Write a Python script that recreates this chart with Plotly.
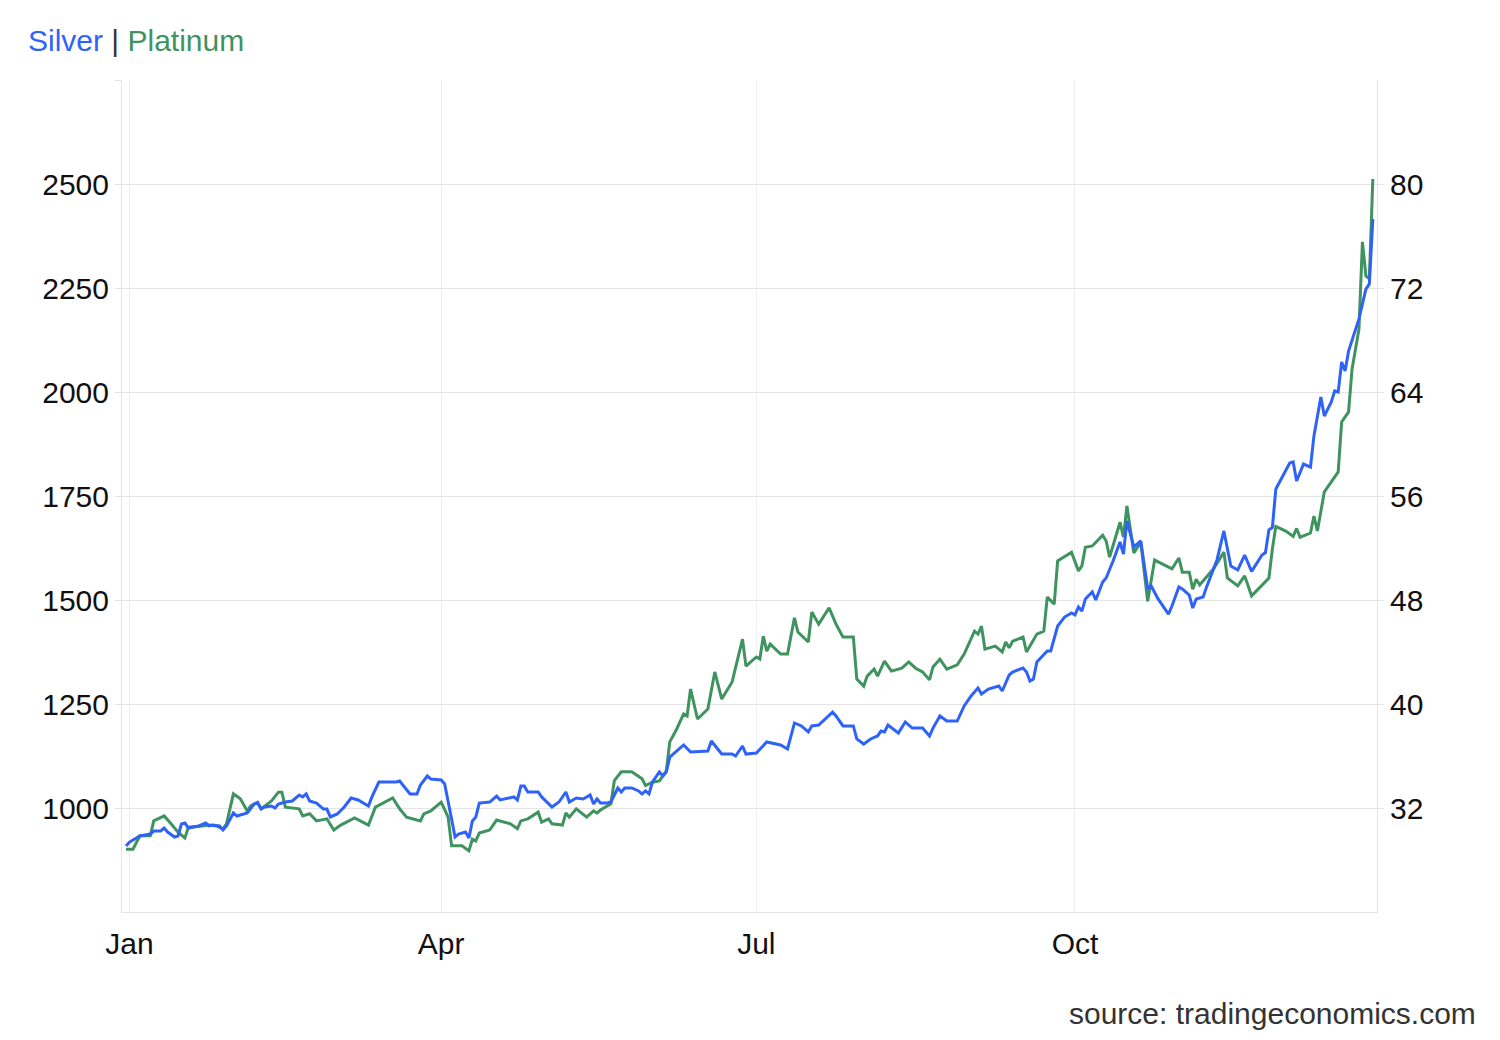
import plotly.graph_objects as go

# ---------------- data ----------------
pt_dates = [
    "2024-12-31", "2025-01-02", "2025-01-04", "2025-01-07", "2025-01-08", "2025-01-11", "2025-01-13",
    "2025-01-15", "2025-01-17", "2025-01-18", "2025-01-22", "2025-01-24", "2025-01-26", "2025-01-28",
    "2025-01-29", "2025-01-31", "2025-02-02", "2025-02-04", "2025-02-05", "2025-02-07", "2025-02-08",
    "2025-02-11", "2025-02-13", "2025-02-14", "2025-02-15", "2025-02-19", "2025-02-20", "2025-02-22",
    "2025-02-24", "2025-02-27", "2025-03-01", "2025-03-03", "2025-03-07", "2025-03-11", "2025-03-13",
    "2025-03-18", "2025-03-20", "2025-03-22", "2025-03-26", "2025-03-27", "2025-03-29", "2025-04-01",
    "2025-04-03", "2025-04-04", "2025-04-07", "2025-04-09", "2025-04-10", "2025-04-11", "2025-04-12",
    "2025-04-15", "2025-04-17", "2025-04-21", "2025-04-23", "2025-04-24", "2025-04-26", "2025-04-29",
    "2025-04-30", "2025-05-02", "2025-05-03", "2025-05-06", "2025-05-07", "2025-05-08", "2025-05-10",
    "2025-05-13", "2025-05-15", "2025-05-16", "2025-05-17", "2025-05-20", "2025-05-21", "2025-05-23",
    "2025-05-26", "2025-05-28", "2025-05-29", "2025-05-30", "2025-06-01", "2025-06-03", "2025-06-05",
    "2025-06-06", "2025-06-08", "2025-06-10", "2025-06-11", "2025-06-12", "2025-06-14", "2025-06-17",
    "2025-06-19", "2025-06-21", "2025-06-24", "2025-06-27", "2025-06-28", "2025-07-01", "2025-07-02",
    "2025-07-03", "2025-07-04", "2025-07-05", "2025-07-08", "2025-07-10", "2025-07-12", "2025-07-13",
    "2025-07-16", "2025-07-17", "2025-07-19", "2025-07-22", "2025-07-24", "2025-07-26", "2025-07-29",
    "2025-07-30", "2025-08-01", "2025-08-02", "2025-08-04", "2025-08-05", "2025-08-07", "2025-08-09",
    "2025-08-12", "2025-08-14", "2025-08-16", "2025-08-18", "2025-08-20", "2025-08-21", "2025-08-23",
    "2025-08-25", "2025-08-28", "2025-08-30", "2025-09-02", "2025-09-03", "2025-09-04", "2025-09-05",
    "2025-09-08", "2025-09-10", "2025-09-11", "2025-09-12", "2025-09-13", "2025-09-16", "2025-09-17",
    "2025-09-20", "2025-09-22", "2025-09-23", "2025-09-25", "2025-09-26", "2025-09-30", "2025-10-02",
    "2025-10-03", "2025-10-04", "2025-10-06", "2025-10-09", "2025-10-10", "2025-10-11", "2025-10-14",
    "2025-10-15", "2025-10-16", "2025-10-18", "2025-10-20", "2025-10-22", "2025-10-24", "2025-10-29",
    "2025-10-31", "2025-11-01", "2025-11-03", "2025-11-04", "2025-11-05", "2025-11-06", "2025-11-10",
    "2025-11-13", "2025-11-14", "2025-11-17", "2025-11-19", "2025-11-21", "2025-11-26", "2025-11-27",
    "2025-11-28", "2025-12-01", "2025-12-03", "2025-12-04", "2025-12-05", "2025-12-08", "2025-12-09",
    "2025-12-10", "2025-12-12", "2025-12-16", "2025-12-17", "2025-12-19", "2025-12-20", "2025-12-22",
    "2025-12-23", "2025-12-24", "2025-12-25", "2025-12-26",
]
pt_values = [
    901, 901, 933, 933, 969, 981, 962,
    942, 928, 954, 957, 959, 957, 950,
    962, 1034, 1022, 993, 1005, 1014, 998,
    1017, 1038, 1038, 1002, 998, 981, 986,
    969, 974, 947, 959, 976, 959, 1002,
    1024, 998, 978, 969, 986, 993, 1014,
    978, 909, 909, 897, 925, 921, 940,
    947, 971, 962, 950, 969, 974, 990,
    966, 974, 962, 959, 988, 978, 998,
    978, 993, 988, 995, 1010, 1066, 1087,
    1087, 1077, 1070, 1054, 1062, 1065, 1089,
    1159, 1190, 1226, 1221, 1286, 1214, 1238,
    1327, 1262, 1303, 1406, 1341, 1363, 1358,
    1413, 1377, 1394, 1370, 1370, 1457, 1423,
    1399, 1471, 1442, 1481, 1442, 1411, 1411,
    1310, 1293, 1317, 1334, 1317, 1353, 1329,
    1336, 1351, 1336, 1327, 1308, 1339, 1358,
    1334, 1344, 1370, 1425, 1418, 1437, 1382,
    1389, 1375, 1399, 1385, 1401, 1411, 1375,
    1418, 1425, 1507, 1490, 1594, 1615, 1570,
    1582, 1627, 1630, 1656, 1642, 1603, 1687,
    1651, 1726, 1613, 1639, 1497, 1596, 1575,
    1601, 1567, 1567, 1526, 1550, 1536, 1575,
    1615, 1553, 1534, 1558, 1510, 1553, 1623,
    1677, 1665, 1653, 1672, 1651, 1661, 1702,
    1666, 1760, 1808, 1928, 1952, 2055, 2151,
    2361, 2279, 2272, 2512,
]

ag_dates = [
    "2024-12-31", "2025-01-01", "2025-01-04", "2025-01-07", "2025-01-08", "2025-01-10", "2025-01-11",
    "2025-01-12", "2025-01-14", "2025-01-15", "2025-01-16", "2025-01-17", "2025-01-18", "2025-01-21",
    "2025-01-23", "2025-01-24", "2025-01-25", "2025-01-27", "2025-01-28", "2025-01-29", "2025-01-31",
    "2025-02-01", "2025-02-04", "2025-02-06", "2025-02-07", "2025-02-08", "2025-02-09", "2025-02-11",
    "2025-02-12", "2025-02-13", "2025-02-15", "2025-02-17", "2025-02-19", "2025-02-20", "2025-02-21",
    "2025-02-22", "2025-02-24", "2025-02-26", "2025-02-27", "2025-02-28", "2025-03-02", "2025-03-04",
    "2025-03-06", "2025-03-08", "2025-03-11", "2025-03-12", "2025-03-14", "2025-03-19", "2025-03-20",
    "2025-03-22", "2025-03-23", "2025-03-25", "2025-03-26", "2025-03-28", "2025-03-29", "2025-04-01",
    "2025-04-02", "2025-04-04", "2025-04-05", "2025-04-06", "2025-04-08", "2025-04-09", "2025-04-10",
    "2025-04-11", "2025-04-12", "2025-04-15", "2025-04-17", "2025-04-18", "2025-04-22", "2025-04-23",
    "2025-04-24", "2025-04-25", "2025-04-26", "2025-04-29", "2025-04-30", "2025-05-03", "2025-05-05",
    "2025-05-07", "2025-05-08", "2025-05-10", "2025-05-12", "2025-05-14", "2025-05-15", "2025-05-16",
    "2025-05-17", "2025-05-19", "2025-05-20", "2025-05-22", "2025-05-23", "2025-05-24", "2025-05-26",
    "2025-05-28", "2025-05-29", "2025-05-30", "2025-05-31", "2025-06-01", "2025-06-03", "2025-06-04",
    "2025-06-05", "2025-06-06", "2025-06-10", "2025-06-12", "2025-06-15", "2025-06-17", "2025-06-18",
    "2025-06-21", "2025-06-24", "2025-06-25", "2025-06-27", "2025-06-28", "2025-07-01", "2025-07-03",
    "2025-07-04", "2025-07-08", "2025-07-10", "2025-07-12", "2025-07-14", "2025-07-16", "2025-07-17",
    "2025-07-19", "2025-07-23", "2025-07-24", "2025-07-26", "2025-07-29", "2025-07-30", "2025-08-01",
    "2025-08-03", "2025-08-05", "2025-08-06", "2025-08-07", "2025-08-08", "2025-08-11", "2025-08-13",
    "2025-08-15", "2025-08-18", "2025-08-20", "2025-08-21", "2025-08-23", "2025-08-25", "2025-08-28",
    "2025-08-30", "2025-09-01", "2025-09-03", "2025-09-04", "2025-09-06", "2025-09-09", "2025-09-10",
    "2025-09-12", "2025-09-13", "2025-09-16", "2025-09-17", "2025-09-18", "2025-09-19", "2025-09-20",
    "2025-09-23", "2025-09-24", "2025-09-26", "2025-09-28", "2025-09-30", "2025-10-01", "2025-10-02",
    "2025-10-03", "2025-10-04", "2025-10-06", "2025-10-07", "2025-10-09", "2025-10-10", "2025-10-12",
    "2025-10-14", "2025-10-15", "2025-10-16", "2025-10-18", "2025-10-20", "2025-10-22", "2025-10-23",
    "2025-10-25", "2025-10-28", "2025-10-29", "2025-10-31", "2025-11-01", "2025-11-03", "2025-11-04",
    "2025-11-05", "2025-11-07", "2025-11-08", "2025-11-11", "2025-11-13", "2025-11-15", "2025-11-17",
    "2025-11-19", "2025-11-21", "2025-11-24", "2025-11-25", "2025-11-26", "2025-11-27", "2025-11-28",
    "2025-11-30", "2025-12-02", "2025-12-03", "2025-12-04", "2025-12-06", "2025-12-08", "2025-12-09",
    "2025-12-10", "2025-12-11", "2025-12-12", "2025-12-14", "2025-12-15", "2025-12-16", "2025-12-17",
    "2025-12-18", "2025-12-19", "2025-12-21", "2025-12-22", "2025-12-24", "2025-12-25", "2025-12-26",
]
ag_values = [
    29.08, 29.38, 29.85, 30.00, 30.23, 30.23, 30.46,
    30.15, 29.77, 29.85, 30.77, 30.85, 30.46, 30.62,
    30.85, 30.62, 30.69, 30.62, 30.31, 30.62, 31.62,
    31.38, 31.62, 32.31, 32.38, 31.92, 32.08, 32.15,
    32.00, 32.31, 32.46, 32.54, 33.00, 32.85, 33.08,
    32.54, 32.38, 31.92, 31.92, 31.31, 31.54, 32.08,
    32.77, 32.62, 32.15, 32.85, 34.00, 34.00, 34.08,
    33.46, 33.08, 33.08, 33.77, 34.46, 34.23, 34.15,
    33.85, 31.15, 29.77, 30.00, 30.15, 29.69, 31.00,
    31.31, 32.38, 32.46, 32.92, 32.62, 32.85, 32.62,
    33.69, 33.69, 33.23, 33.23, 32.85, 32.08, 32.46,
    33.23, 32.46, 32.77, 32.69, 33.00, 32.31, 32.69,
    32.38, 32.38, 32.46, 33.54, 33.23, 33.54, 33.54,
    33.31, 33.08, 33.31, 33.08, 34.00, 34.77, 34.46,
    34.77, 35.92, 36.85, 36.31, 36.38, 36.38, 37.15,
    36.15, 36.15, 36.00, 36.77, 36.15, 36.23, 36.77,
    37.08, 36.85, 36.54, 38.54, 38.31, 37.85, 38.31,
    38.38, 39.38, 39.08, 38.31, 38.31, 37.31, 36.92,
    37.31, 37.54, 37.92, 37.85, 38.38, 37.77, 38.62,
    38.15, 38.15, 37.54, 38.15, 39.08, 38.69, 38.69,
    39.85, 40.62, 41.23, 40.77, 41.15, 41.38, 41.00,
    42.23, 42.46, 42.77, 42.46, 41.77, 41.92, 43.23,
    44.08, 44.08, 46.00, 46.69, 47.00, 46.85, 47.46,
    47.15, 48.08, 48.62, 48.00, 49.38, 49.69, 51.00,
    52.46, 51.54, 54.08, 52.08, 52.54, 48.85, 49.08,
    48.08, 46.92, 47.54, 49.00, 48.85, 48.38, 47.38,
    48.08, 48.23, 49.00, 51.08, 53.31, 50.62, 50.31,
    51.46, 50.20, 51.46, 51.65, 53.40, 53.58, 56.54,
    57.54, 58.54, 58.62, 57.15, 58.46, 58.23, 60.62,
    62.15, 63.62, 62.15, 63.23, 64.08, 64.00, 66.31,
    65.62, 67.15, 68.92, 69.62, 71.92, 72.31, 77.30,
]

pt_ticks = [1000, 1250, 1500, 1750, 2000, 2250, 2500, 2750]
pt_ticktext = ["1000", "1250", "1500", "1750", "2000", "2250", "2500", ""]
ag_ticks = [32, 40, 48, 56, 64, 72, 80]
month_ticks = ["2025-01-01", "2025-04-01", "2025-07-01", "2025-10-01"]
month_labels = ["Jan", "Apr", "Jul", "Oct"]

# ---------------- figure ----------------
BLUE = "#2f62f8"
GREEN = "#3f935e"
FONT = "Liberation Sans, Arial, Helvetica, sans-serif"
GRID = "#e5e5e5"

# the page places the figure 8px from the top-left corner, so the figure is
# sized to fit the 1500x1040 window with that offset
W, H = 1484, 1024

fig = go.Figure()
fig.add_trace(go.Scatter(x=pt_dates, y=pt_values, name="Platinum", mode="lines",
                         line=dict(color=GREEN, width=3), yaxis="y"))
fig.add_trace(go.Scatter(x=ag_dates, y=ag_values, name="Silver", mode="lines",
                         line=dict(color=BLUE, width=3), yaxis="y2"))

fig.update_layout(
    width=W, height=H,
    margin=dict(l=114, r=115, t=72, b=120),
    paper_bgcolor="white", plot_bgcolor="white",
    showlegend=False,
    font=dict(family=FONT, size=30, color="#111111"),
    title=dict(
        text=(f'<span style="color:{BLUE}">Silver</span>'
              f'<span style="color:#333333"> | </span>'
              f'<span style="color:{GREEN}">Platinum</span>'),
        x=20 / W, xanchor="left", xref="container",
        y=1 - 32 / H, yanchor="middle", yref="container",
        font=dict(family=FONT, size=30),
    ),
    xaxis=dict(
        type="date",
        range=["2024-12-29 20:00", "2025-12-27 05:00"],
        tickvals=month_ticks, ticktext=month_labels,
        showgrid=True, gridcolor="#edf0f2", gridwidth=1,
        showline=True, linecolor=GRID, linewidth=1,
        ticks="", ticklabelstandoff=5,
        zeroline=False,
    ),
    yaxis=dict(
        range=[750, 2750],
        tickvals=pt_ticks, ticktext=pt_ticktext,
        showgrid=True, gridcolor=GRID, gridwidth=1,
        showline=True, linecolor=GRID, linewidth=1,
        ticks="outside", ticklen=6, tickcolor=GRID,
        zeroline=False,
    ),
    yaxis2=dict(
        range=[24, 88],
        tickvals=ag_ticks,
        overlaying="y", side="right",
        showgrid=False,
        showline=True, linecolor=GRID, linewidth=1,
        ticks="outside", ticklen=6, tickcolor=GRID,
        zeroline=False,
    ),
)

fig.add_annotation(
    text="source: tradingeconomics.com",
    xref="paper", yref="paper",
    x=(1478 - 122) / 1255, y=-(1014 - 912) / 832,
    xanchor="right", yanchor="middle",
    showarrow=False,
    font=dict(family=FONT, size=30, color="#333333"),
)

fig.write_html("out.html")
